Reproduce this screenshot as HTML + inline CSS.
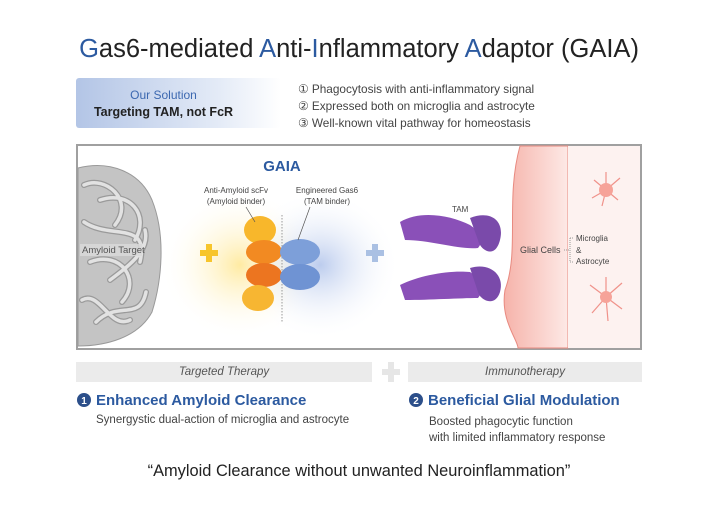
<!DOCTYPE html>
<html><head><meta charset="utf-8"><style>
body{margin:0;width:718px;height:508px;background:#fff;font-family:"Liberation Sans",sans-serif;position:relative;overflow:hidden;color:#333}
.a{position:absolute;white-space:nowrap}
.b{color:#2c5aa0}
</style></head><body>
<div class="a" style="left:0;width:718px;top:35px;text-align:center;font-size:25.5px;color:#222"><span class="b">G</span>as6-mediated <span class="b">A</span>nti-<span class="b">I</span>nflammatory <span class="b">A</span>daptor (GAIA)</div>
<div class="a" style="left:76px;top:78px;width:205px;height:50px;background:linear-gradient(90deg,#b3c5e6,#e4ebf7 70%,#fff);border-radius:3px"></div>
<div class="a" style="left:76px;width:175px;top:88px;text-align:center;font-size:12px;color:#3c68b0">Our Solution</div>
<div class="a" style="left:76px;width:175px;top:105px;text-align:center;font-size:12.5px;font-weight:bold;color:#222">Targeting TAM, not FcR</div>
<div class="a" style="left:298px;top:81px;font-size:11.8px;line-height:17px;color:#444">① Phagocytosis with anti-inflammatory signal<br>② Expressed both on microglia and astrocyte<br>③ Well-known vital pathway for homeostasis</div>
<svg class="a" style="left:0;top:0" width="718" height="508">
<defs>
<radialGradient id="y"><stop offset="0" stop-color="#ffe27a" stop-opacity=".7"/><stop offset="1" stop-color="#fff" stop-opacity="0"/></radialGradient>
<radialGradient id="bl"><stop offset="0" stop-color="#9fb6e6" stop-opacity=".7"/><stop offset="1" stop-color="#fff" stop-opacity="0"/></radialGradient>
<linearGradient id="pk" x1="0" x2="1"><stop offset="0" stop-color="#f6b3aa"/><stop offset="1" stop-color="#fde9e6"/></linearGradient>
</defs>
<rect x="77" y="145" width="564" height="204" fill="#fff" stroke="#a0a0a0" stroke-width="2"/>
<ellipse cx="240" cy="265" rx="80" ry="75" fill="url(#y)"/>
<ellipse cx="320" cy="265" rx="80" ry="75" fill="url(#bl)"/>
<path d="M520 146 C505 200 520 250 505 290 C500 320 518 340 518 348 L568 348 L568 146Z" fill="url(#pk)" stroke="#e88a80"/>
<rect x="568" y="146" width="72" height="202" fill="#fdf2f0"/>
<path d="M78 168 C110 160 140 172 152 200 C166 235 162 280 152 312 C138 338 105 346 78 346Z" fill="#c4c4c4" stroke="#999"/>
<g fill="none" stroke="#9a9a9a" stroke-width="6" stroke-linecap="round">
<path d="M84 185 C105 175 135 200 115 225 M90 262 C120 250 142 280 122 302 M96 322 C118 300 140 322 146 292 M84 222 C110 240 150 220 140 262 M100 200 C130 190 150 215 135 240 M82 300 C100 290 110 330 130 320 M110 280 C130 265 150 250 145 230"/>
</g>
<g fill="none" stroke="#e2e2e2" stroke-width="3.5" stroke-linecap="round">
<path d="M84 185 C105 175 135 200 115 225 M90 262 C120 250 142 280 122 302 M96 322 C118 300 140 322 146 292 M84 222 C110 240 150 220 140 262 M100 200 C130 190 150 215 135 240 M82 300 C100 290 110 330 130 320 M110 280 C130 265 150 250 145 230"/>
</g>
<rect x="80" y="244" width="62" height="12" fill="#d9d9d9" opacity=".85"/>
<text x="82" y="253" font-size="9.5" fill="#555">Amyloid Target</text>
<path d="M200 250h6v-6h6v6h6v6h-6v6h-6v-6h-6z" fill="#f7c52c"/>
<path d="M366 250h6v-6h6v6h6v6h-6v6h-6v-6h-6z" fill="#aac0e3"/>
<line x1="282" y1="215" x2="282" y2="322" stroke="#999" stroke-dasharray="1.5 1.5"/>
<ellipse cx="260" cy="230" rx="16" ry="14" fill="#f8b72b"/>
<ellipse cx="264" cy="252" rx="18" ry="12" fill="#f28a22"/>
<ellipse cx="264" cy="275" rx="18" ry="12" fill="#ec7520"/>
<ellipse cx="258" cy="298" rx="16" ry="13" fill="#f7b632"/>
<ellipse cx="300" cy="252" rx="20" ry="13" fill="#7d9fd9"/>
<ellipse cx="300" cy="277" rx="20" ry="13" fill="#6f93d3"/>
<line x1="246" y1="207" x2="255" y2="222" stroke="#555" stroke-width=".7"/>
<line x1="310" y1="207" x2="298" y2="240" stroke="#555" stroke-width=".7"/>
<text x="282" y="171" font-size="15" font-weight="bold" fill="#2c5aa0" text-anchor="middle">GAIA</text>
<text x="236" y="193" font-size="8" fill="#444" text-anchor="middle">Anti-Amyloid scFv</text>
<text x="236" y="204" font-size="8" fill="#444" text-anchor="middle">(Amyloid binder)</text>
<text x="327" y="193" font-size="8" fill="#444" text-anchor="middle">Engineered Gas6</text>
<text x="327" y="204" font-size="8" fill="#444" text-anchor="middle">(TAM binder)</text>
<g fill="#8a50b8">
<path d="M400 222 C420 210 450 215 470 225 C480 232 485 240 478 248 C460 250 430 240 405 240Z"/>
<path d="M470 218 C490 210 505 220 500 240 C495 260 480 250 478 240Z" fill="#7a4aaa"/>
<path d="M400 285 C420 275 450 270 470 272 C482 280 485 290 478 298 C460 298 430 300 405 300Z"/>
<path d="M470 268 C490 262 505 275 500 292 C495 308 480 300 478 292Z" fill="#7a4aaa"/>
</g>
<text x="452" y="212" font-size="8" fill="#444">TAM</text>
<text x="520" y="253" font-size="9" fill="#444">Glial Cells</text>
<path d="M564 250h6M570 238v24M570 238h3M570 262h3" stroke="#999" stroke-dasharray="1 1" fill="none"/>
<text x="576" y="241" font-size="8" fill="#444">Microglia</text>
<text x="576" y="253" font-size="8" fill="#444">&amp;</text>
<text x="576" y="264" font-size="8" fill="#444">Astrocyte</text>
<g stroke="#f0928a" fill="none" stroke-width="1.2">
<path d="M606 190l-12-10M606 190l14-12M606 190l-14 8M606 190l12 10M606 190l0-18M606 190l-4 16"/>
<path d="M606 297l-16-12M606 297l16-14M606 297l-14 16M606 297l16 12M606 297l0-20M606 297l2 24"/>
</g>
<circle cx="606" cy="190" r="7" fill="#f6a399"/>
<circle cx="606" cy="297" r="6" fill="#f6a399"/>
<rect x="76" y="362" width="296" height="20" fill="#ebebeb"/>
<rect x="408" y="362" width="234" height="20" fill="#ebebeb"/>
<path d="M382 369h6v-7h6v7h6v6h-6v7h-6v-7h-6z" fill="#e6e6e6"/>
<circle cx="84" cy="400" r="7" fill="#2c4f8a"/>
<circle cx="416" cy="400" r="7" fill="#2c4f8a"/>
<text x="84" y="404" font-size="10" font-weight="bold" fill="#fff" text-anchor="middle">1</text>
<text x="416" y="404" font-size="10" font-weight="bold" fill="#fff" text-anchor="middle">2</text>
</svg>
<div class="a" style="left:76px;width:296px;top:366px;text-align:center;font-size:11.5px;font-style:italic;color:#555">Targeted Therapy</div>
<div class="a" style="left:408px;width:234px;top:366px;text-align:center;font-size:11.5px;font-style:italic;color:#555">Immunotherapy</div>
<div class="a b" style="left:96px;top:392px;font-size:15px;font-weight:bold">Enhanced Amyloid Clearance</div>
<div class="a b" style="left:428px;top:392px;font-size:15px;font-weight:bold">Beneficial Glial Modulation</div>
<div class="a" style="left:96px;top:414px;font-size:11.5px;color:#444">Synergystic dual-action of microglia and astrocyte</div>
<div class="a" style="left:429px;top:414px;font-size:11.5px;line-height:16px;color:#444">Boosted phagocytic function<br>with limited inflammatory response</div>
<div class="a" style="left:0;width:718px;top:462px;text-align:center;font-size:16.4px;color:#222">“Amyloid Clearance without unwanted Neuroinflammation”</div>
</body></html>
